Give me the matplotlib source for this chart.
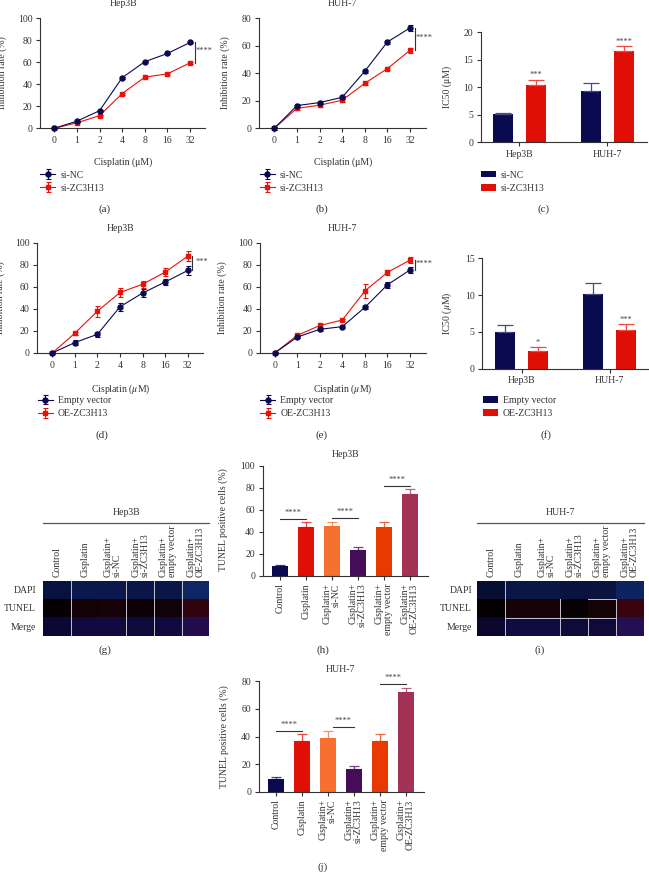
import matplotlib

matplotlib.use("Agg")
import matplotlib.pyplot as plt
import numpy as np
from matplotlib.transforms import Affine2D

W, H = 649, 872
INK = "#333333"
NAVY = "#0a0a50"
RED = "#ea1208"

doses = ["0", "1", "2", "4", "8", "16", "32"]

# (a)
a_nc = [0, 6.5, 16, 46, 60.5, 68, 78]
a_kd = [0, 5, 11.5, 31.5, 46.5, 49.5, 59.5]
a_nc_err = [0.3, 0.5, 0.6, 0.8, 0.6, 0.6, 0.8]
a_kd_err = [0.3, 0.5, 0.6, 0.8, 0.6, 0.6, 0.8]
# (b)
b_nc = [0, 16.5, 18.7, 22.5, 41.5, 62.8, 73]
b_kd = [0, 14.5, 16.8, 20.4, 32.7, 43.4, 56.7]
b_nc_err = [1.2, 1, 1, 1, 1, 1.5, 2]
b_kd_err = [1.2, 1, 1, 1, 1, 1, 2]
# (d)
d_ev = [0, 9.5, 17, 42, 54.5, 64.5, 75]
d_oe = [0, 18, 38, 55, 62.5, 73.5, 88]
d_ev_err = [0.5, 2, 2.5, 3.5, 4, 3, 4]
d_oe_err = [0.5, 1.5, 5, 4, 3, 3.5, 4.5]
# (e)
e_ev = [0, 14.5, 21.5, 24, 41.5, 62, 75.5]
e_oe = [0, 16, 25, 30, 56.4, 73.3, 84.5]
e_ev_err = [0.5, 0.8, 1.5, 1, 1.5, 2.5, 3]
e_oe_err = [0.5, 1, 1.5, 1, 6, 2.5, 2.5]

cell_lines = ["Hep3B", "HUH-7"]
# (c)
c_nc = [5.2, 9.3]
c_kd = [10.3, 16.5]
c_nc_err = [0.2, 1.5]
c_kd_err = [0.95, 0.9]
# (f)
f_ev = [5.0, 10.2]
f_oe = [2.4, 5.2]
f_ev_err = [1.0, 1.5]
f_oe_err = [0.6, 0.85]

groups = [
    "Control",
    "Cisplatin",
    "Cisplatin+\nsi-NC",
    "Cisplatin+\nsi-ZC3H13",
    "Cisplatin+\nempty vector",
    "Cisplatin+\nOE-ZC3H13",
]
group_colors = ["#0a0a50", "#e00f05", "#f7702f", "#450d57", "#e83a00", "#a33257"]
h_vals = [8.5, 44.5, 45, 23, 44.5, 74]
h_err = [1.5, 4, 3.5, 3.5, 4, 4.5]
j_vals = [9.5, 37, 39, 16.5, 36.5, 72]
j_err = [1.5, 4.5, 5, 2, 5, 3.5]

rows = ["DAPI", "TUNEL", "Merge"]
# mean colour of each microscopy tile (row, column)
g_tiles = [
    [(8, 18, 62), (10, 24, 78), (10, 24, 78), (10, 22, 72), (10, 22, 72), (14, 38, 100)],
    [(6, 0, 4), (18, 2, 8), (22, 2, 8), (12, 1, 6), (16, 2, 8), (48, 4, 14)],
    [(12, 8, 52), (16, 10, 62), (18, 10, 62), (14, 10, 60), (16, 10, 62), (34, 12, 78)],
]
i_tiles = [
    [(6, 14, 50), (10, 22, 70), (10, 22, 70), (8, 20, 62), (10, 20, 62), (14, 36, 96)],
    [(4, 0, 2), (22, 3, 8), (24, 3, 8), (8, 1, 3), (22, 3, 8), (58, 4, 14)],
    [(10, 6, 44), (16, 12, 66), (16, 12, 66), (14, 10, 58), (16, 10, 58), (36, 14, 84)],
]

plt.rcParams["font.family"] = ["Liberation Serif", "DejaVu Serif"]
plt.rcParams["mathtext.fontset"] = "stix"
plt.rcParams["font.size"] = 7
plt.rcParams["text.color"] = INK
plt.rcParams["axes.labelcolor"] = INK
plt.rcParams["axes.edgecolor"] = INK
plt.rcParams["xtick.color"] = INK
plt.rcParams["ytick.color"] = INK

fig = plt.figure(figsize=(W / 100, H / 100), dpi=100)
px = Affine2D().scale(1 / W, -1 / H).translate(0, 1) + fig.transFigure


def put_text(x, y, s, **kwargs):
    kwargs.setdefault("ha", "center")
    kwargs.setdefault("va", "center")
    fig.text(x, y, s, transform=px, **kwargs)


def make_axes(left, top, right, bottom):
    ax = fig.add_axes([left / W, 1 - bottom / H, (right - left) / W, (bottom - top) / H])
    ax.spines["top"].set_visible(False)
    ax.spines["right"].set_visible(False)
    ax.spines["left"].set_linewidth(0.8)
    ax.spines["bottom"].set_linewidth(0.8)
    ax.tick_params(length=3, width=0.8, pad=2.5, labelsize=7)
    return ax


def add_legend(ax, handles, labels, x, y):
    ax.legend(
        handles,
        labels,
        loc="upper left",
        bbox_to_anchor=(x, y),
        bbox_transform=px,
        frameon=False,
        borderpad=0,
        borderaxespad=0,
        labelspacing=0.42,
        handlelength=1.55,
        handletextpad=0.55,
        fontsize=7,
    )


def stars(ax, x, y, s):
    ax.text(x, y, s, fontsize=6, color="#444444", ha="center", va="center", clip_on=False)


def line_panel(box, x_first, x_last, ymax, yticks, s1, s2, e1, e2, names, title, title_xy,
               xlabel, xlabel_xy, ylabel_xy, legend_xy, sig):
    ax = make_axes(*box)
    step = (x_last - x_first) / 6
    ax.set_xlim((box[0] - x_first) / step, (box[2] - x_first) / step)
    ax.set_ylim(0, ymax)
    xs = np.arange(len(doses))
    h1 = ax.errorbar(xs, s1, yerr=e1, color=NAVY, marker="o", ms=3.6, lw=0.8, elinewidth=0.8,
                     capsize=1.8, capthick=0.8, clip_on=False, zorder=3)
    h2 = ax.errorbar(xs, s2, yerr=e2, color=RED, marker="s", ms=3.4, lw=0.8, elinewidth=0.8,
                     capsize=1.8, capthick=0.8, clip_on=False, zorder=2)
    ax.set_xticks(xs, doses)
    ax.set_yticks(yticks)
    ax.set_ylabel("Inhibition rate (%)", fontsize=7)
    ax.yaxis.set_label_coords(*ylabel_xy, transform=px)
    ax.set_xlabel(xlabel, fontsize=7)
    ax.xaxis.set_label_coords(*xlabel_xy, transform=px)
    ax.plot([6.2, 6.2], [s1[-1], s2[-1]], color=INK, lw=0.8, clip_on=False)
    stars(ax, 6.62, (s1[-1] + s2[-1]) / 2 + 0.012 * ymax, sig)
    add_legend(ax, [h1, h2], names, *legend_xy)
    put_text(*title_xy, title)


def ic50_panel(box, tick0, ymax, yticks, s1, s2, e1, e2, names, ylabel, ylabel_xy, legend_xy, marks):
    ax = make_axes(*box)
    ax.set_xlim((box[0] - tick0) / 88, (box[2] - tick0) / 88)
    ax.set_ylim(0, ymax)
    xs = np.arange(len(cell_lines))
    off = 0.1875
    width = 0.23
    b1 = ax.bar(xs - off, s1, width, color=NAVY)
    b2 = ax.bar(xs + off, s2, width, color="#e00f05")
    ax.errorbar(xs - off, s1, yerr=[np.zeros(2), e1], fmt="none", ecolor="#4a4a80",
                elinewidth=0.9, capsize=5.5, capthick=0.9)
    ax.errorbar(xs + off, s2, yerr=[np.zeros(2), e2], fmt="none", ecolor="#ee4a40",
                elinewidth=0.9, capsize=5.5, capthick=0.9)
    ax.set_xticks(xs, cell_lines)
    ax.set_yticks(yticks)
    ax.set_ylabel(ylabel, fontsize=7)
    ax.yaxis.set_label_coords(*ylabel_xy, transform=px)
    for i, (mark, gap) in enumerate(marks):
        stars(ax, xs[i] + off, s2[i] + e2[i] + gap, mark)
    add_legend(ax, [b1, b2], names, *legend_xy)


def tunel_panel(box, center0, ymax, yticks, vals, err, title, title_xy, ylabel_xy, brackets):
    ax = make_axes(*box)
    ax.set_xlim((box[0] - center0) / 26, (box[2] - center0) / 26)
    ax.set_ylim(0, ymax)
    xs = np.arange(len(groups))
    ax.bar(xs, vals, 0.6, color=group_colors)
    for x, v, e, c in zip(xs, vals, err, group_colors):
        ax.errorbar(x, v, yerr=[[0], [e]], fmt="none", ecolor=c, alpha=0.75, elinewidth=0.9,
                    capsize=3.8, capthick=0.9)
    ax.set_xticks(xs)
    ax.set_xticklabels(groups, rotation=90, ha="center", va="top", multialignment="right",
                       fontsize=7, linespacing=1.0)
    ax.set_yticks(yticks)
    ax.set_ylabel("TUNEL positive cells (%)", fontsize=7)
    ax.yaxis.set_label_coords(*ylabel_xy, transform=px)
    for x1, x2, y in brackets:
        ax.plot([x1, x2], [y, y], color=INK, lw=0.8)
        stars(ax, (x1 + x2) / 2, y + 0.055 * ymax, "****")
    put_text(*title_xy, title)


def tile_panel(left, right, tiles, title, title_x, label_right, v_seps, h_seps):
    ax = fig.add_axes([left / W, 1 - 636 / H, (right - left) / W, (636 - 580.7) / H])
    ax.imshow(np.array(tiles, dtype=np.uint8), aspect="auto", interpolation="nearest",
              extent=(0, 6, 3, 0))
    ax.set_axis_off()
    for x, y0, y1 in v_seps:
        ax.plot([x, x], [y0, y1], color="#c4c4cc", lw=0.7)
    for y, x0, x1 in h_seps:
        ax.plot([x0, x1], [y, y], color="#c4c4cc", lw=0.7)
    ax.set_xlim(0, 6)
    ax.set_ylim(3, 0)
    step = (right - left) / 6
    for i, name in enumerate(groups):
        put_text(left + step * (i + 0.5), 577.3, name, rotation=90, va="bottom",
                 multialignment="left", linespacing=1.0)
    for i, name in enumerate(rows):
        put_text(label_right, 590 + 18.8 * i, name, ha="right")
    fig.add_artist(plt.Line2D([left, right], [522.7, 522.7], color="#555555", lw=0.9, transform=px))
    put_text(title_x, 512.3, title)


kd_names = ["si-NC", "si-ZC3H13"]
oe_names = ["Empty vector", "OE-ZC3H13"]
um = "Cisplatin (\u03bcM)"
um_i = r"Cisplatin ($\mu$M)"

line_panel((40, 18.3, 205, 128.3), 54.3, 190, 100, range(0, 101, 20), a_nc, a_kd, a_nc_err, a_kd_err,
           kd_names, "Hep3B", (123, 3), um, (122.7, 157.7), (7.3, 73), (40, 170.5), "****")
line_panel((259.3, 18.3, 425.7, 128.3), 274.3, 410, 80, range(0, 81, 20), b_nc, b_kd, b_nc_err, b_kd_err,
           kd_names, "HUH-7", (342.7, 3), um, (342.7, 157.7), (230, 73), (259.5, 170.5), "****")
line_panel((37.3, 243, 202.7, 353), 52.3, 187.7, 100, range(0, 101, 20), d_ev, d_oe, d_ev_err, d_oe_err,
           oe_names, "Hep3B", (120.7, 228), um_i, (120.3, 382.7), (5, 297.7), (37.5, 396), "***")
line_panel((260, 243, 425.7, 353), 274.7, 410, 100, range(0, 101, 20), e_ev, e_oe, e_ev_err, e_oe_err,
           oe_names, "HUH-7", (342.7, 228), um_i, (342.7, 382.7), (227, 297.7), (260, 396), "****")

ic50_panel((480.7, 32, 646.7, 142.3), 519.3, 20, range(0, 21, 5), c_nc, c_kd, c_nc_err, c_kd_err,
           kd_names, "IC50 (\u03bcM)", (451.7, 87), (480.5, 170.5), [("***", 0.9), ("****", 0.8)])
ic50_panel((482.3, 258.3, 649, 368.7), 521.7, 15, range(0, 16, 5), f_ev, f_oe, f_ev_err, f_oe_err,
           oe_names, r"IC50 ($\mu$M)", (454, 313), (482.5, 396), [("*", 0.55), ("***", 0.6)])

tunel_panel((262.7, 465.7, 427.7, 575.7), 279.8, 100, range(0, 101, 20), h_vals, h_err,
            "Hep3B", (345.3, 454), (228.3, 520),
            [(0, 1, 52), (2, 3, 52.7), (4, 5, 82)])
tunel_panel((258.7, 681.3, 424, 791.7), 275.8, 80, range(0, 81, 20), j_vals, j_err,
            "HUH-7", (340, 669), (229, 736.7),
            [(0, 1, 44), (2.2, 3, 47), (4, 5, 78)])

tile_panel(43.3, 209.3, g_tiles, "Hep3B", 126.7, 36,
           [(1, 0, 3), (3, 0, 3), (4, 0, 3), (5, 0, 3)], [])
tile_panel(477, 643.7, i_tiles, "HUH-7", 560.3, 472,
           [(1, 0, 3), (3, 1, 3), (4, 2, 3), (5, 1, 3)], [(1, 4, 5), (2, 1, 5)])

for label, x, y in [
    ("(a)", 104.7, 209), ("(b)", 322, 209), ("(c)", 544, 209),
    ("(d)", 102, 434.7), ("(e)", 322, 434.7), ("(f)", 546.3, 434.7),
    ("(g)", 105.3, 650), ("(h)", 323.3, 650), ("(i)", 540, 650), ("(j)", 322.3, 866.7),
]:
    put_text(x, y, label, fontsize=8)

fig.savefig("out.png", dpi=100)
